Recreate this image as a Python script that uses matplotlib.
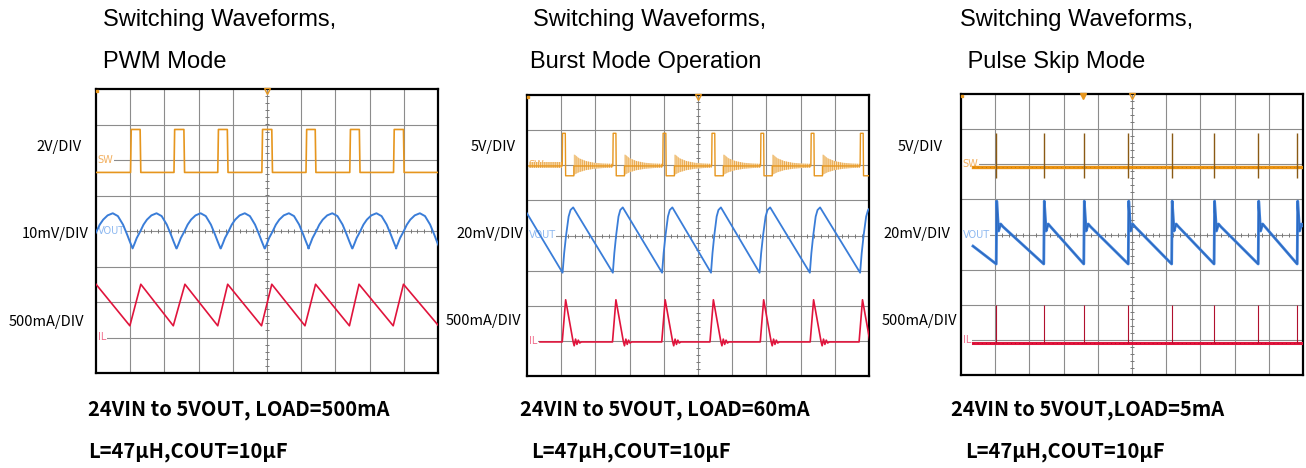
import matplotlib.pyplot as plt
import numpy as np

W, H = 1306, 468

plt.rcParams['hatch.linewidth'] = 0.6

# scope colours
SW_C = '#E6961E'
VOUT_C = '#3A7DD8'
IL_C = '#E0143C'

# ---------------- texts ----------------
TITLES = [['Switching Waveforms,', 'PWM Mode'],
          ['Switching Waveforms,', 'Burst Mode Operation'],
          ['Switching Waveforms,', ' Pulse Skip Mode']]
SCALES = [['2V/DIV', '10mV/DIV', '500mA/DIV'],
          ['5V/DIV', '20mV/DIV', '500mA/DIV'],
          ['5V/DIV', '20mV/DIV', '500mA/DIV']]
CONDITIONS = [['24VIN to 5VOUT, LOAD=500mA', 'L=47\u00b5H,COUT=10\u00b5F'],
              ['24VIN to 5VOUT, LOAD=60mA', 'L=47\u00b5H,COUT=10\u00b5F'],
              ['24VIN to 5VOUT,LOAD=5mA', 'L=47\u00b5H,COUT=10\u00b5F']]
CHANNELS = ['SW', 'VOUT', 'IL']
CHANNEL_REF = [6, 4, 1]          # reference level (div) of each channel

# ---------------- PWM mode (divisions) ----------------
PWM_SW_RISE = [1.01, 2.28, 3.56, 4.85, 6.14, 7.42, 8.70]
PWM_SW_FALL = [1.29, 2.57, 3.84, 5.14, 6.41, 7.70, 8.99]
PWM_SW_LO, PWM_SW_HI = 5.65, 6.86

PWM_VOUT_TROUGH = [-0.21, 1.07, 2.36, 3.65, 4.94, 6.21, 7.50, 8.77]
PWM_VOUT_CYCLE_DX = [0.0, 0.06, 0.12, 0.22, 0.32, 0.42, 0.55, 0.70, 0.85, 1.00, 1.12, 1.20, 1.28]
PWM_VOUT_CYCLE_Y = [3.51, 3.65, 3.80, 3.98, 4.18, 4.32, 4.44, 4.50, 4.42, 4.18, 3.90, 3.70, 3.51]

PWM_IL_X = [0.0, 0.99, 1.31, 2.26, 2.60, 3.56, 3.85, 4.84, 5.14, 6.11, 6.42, 7.41, 7.69, 8.69, 8.99, 10.0]
PWM_IL_Y = [2.50, 1.33, 2.50, 1.33, 2.50, 1.33, 2.50, 1.33, 2.50, 1.33, 2.50, 1.33, 2.50, 1.33, 2.50, 1.35]

# ---------------- Burst mode ----------------
BURST_SW_RISE = [1.03, 2.51, 3.97, 5.40, 6.83, 8.30, 9.74]
BURST_SW_WIDTH = 0.09
BURST_SW_HI, BURST_SW_LO, BURST_SW_MID = 6.91, 5.70, 5.98
BURST_SW_LOW_TIME = 0.25
BURST_RING_DX = [0.0, 0.03, 0.15, 0.35, 0.60, 0.85, 1.20]
BURST_RING_UP = [6.30, 6.30, 6.20, 6.12, 6.07, 6.05, 6.04]
BURST_RING_DN = [5.72, 5.74, 5.80, 5.86, 5.90, 5.92, 5.93]
BURST_PRE_RING = [5.92, 6.08]

BURST_VOUT_TROUGH = [1.04, 2.51, 3.95, 5.38, 6.80, 8.27, 9.74]
BURST_VOUT_PEAK = [1.35, 2.80, 4.25, 5.67, 7.11, 8.57, 10.05]
BURST_VOUT_LO, BURST_VOUT_HI, BURST_VOUT_START = 2.94, 4.80, 4.63
BURST_VOUT_RISE_FX = [0.0, 0.15, 0.33, 0.57, 0.75, 1.0]
BURST_VOUT_RISE_FY = [0.0, 0.30, 0.57, 0.86, 0.96, 1.0]

BURST_IL_PEAK = [1.13, 2.60, 4.04, 5.45, 6.92, 8.38, 9.81]
BURST_IL_START = 0.38
BURST_IL_DX = [-0.10, 0.0, 0.22, 0.25, 0.29, 0.33, 0.37, 0.41, 0.46]
BURST_IL_Y = [0.97, 2.17, 0.97, 0.86, 1.05, 0.90, 1.02, 0.94, 0.97]
BURST_IL_BASE = 0.97

# ---------------- Pulse skip mode ----------------
SKIP_SPIKE_X = [1.03, 2.42, 3.59, 4.89, 6.16, 7.40, 8.69, 9.83]
SKIP_START = 0.35
SKIP_SW_BASE, SKIP_SW_TOP, SKIP_SW_BOT = 5.92, 6.89, 5.61
SKIP_VOUT_START = 3.67
SKIP_VOUT_DX = [0.0, 0.015, 0.07, 0.13, 0.20]
SKIP_VOUT_Y = [3.16, 4.95, 4.10, 4.30, 4.22]
SKIP_IL_BASE, SKIP_IL_TOP = 0.91, 2.0

# layout: left, top, width, height in pixels
AX_BOXES = [(96, 89, 342, 284), (527, 95, 342, 281), (961, 94, 342, 281)]
TITLE_X = [[103, 103], [533, 530], [960, 961]]
SCALE_POS = [[(82, 147), (89, 234), (84, 322)],
             [(516, 147), (523, 234), (521, 321)],
             [(943, 147), (950, 234), (957, 321)]]
COND_X = [[88, 88], [520, 531], [951, 965]]

CJK = ['Noto Sans CJK SC', 'DejaVu Sans']


def ftext(x, y, s, **kw):
    fig.text(x / W, 1 - y / H, s, **kw)


def scope_axes(box):
    left, top, w, h = box
    ax = fig.add_axes([left / W, 1 - (top + h) / H, w / W, h / H])
    ax.set_xlim(0, 10)
    ax.set_ylim(0, 8)
    ax.set_xticks([])
    ax.set_yticks([])
    for gx in range(1, 10):
        ax.axvline(gx, color='#8c8c8c', lw=0.8, zorder=1)
    for gy in range(1, 8):
        ax.axhline(gy, color='#8c8c8c', lw=0.8, zorder=1)
    tx = np.arange(0.2, 10, 0.2)
    ty = np.arange(0.2, 8, 0.2)
    ax.plot(tx, np.full_like(tx, 4), ls='none', marker='|', ms=3.5, mew=0.7, color='#777777', zorder=1)
    ax.plot(np.full_like(ty, 5), ty, ls='none', marker='_', ms=3.5, mew=0.7, color='#777777', zorder=1)
    for sp in ax.spines.values():
        sp.set_linewidth(1.6)
        sp.set_color('black')
    # trigger marker at the top centre
    ax.plot([5], [7.93], marker='v', ms=5, mfc='none', mec=SW_C, mew=1, clip_on=False, zorder=5)
    ax.plot([0.04], [7.95], marker='s', ms=2, color=SW_C, clip_on=False, zorder=5)
    for name, ref, col in zip(CHANNELS, CHANNEL_REF, ['#F2B060', '#8DB8F0', '#F0708E']):
        ax.text(0.05, ref, name, fontsize=7, color=col, va='center', ha='left',
                family='DejaVu Sans', zorder=2,
                bbox=dict(facecolor='white', edgecolor='none', pad=0.4))
    return ax


fig = plt.figure(figsize=(W / 100, H / 100), dpi=100)

axes = [scope_axes(b) for b in AX_BOXES]

# ---- PWM panel ----
ax = axes[0]
sx, sy = [0.0], [PWM_SW_LO]
for r, f in zip(PWM_SW_RISE, PWM_SW_FALL):
    sx += [r, r + 0.02, f, f + 0.02]
    sy += [PWM_SW_LO, PWM_SW_HI, PWM_SW_HI, PWM_SW_LO]
sx.append(10.0)
sy.append(PWM_SW_LO)
ax.plot(sx, sy, color=SW_C, lw=1.2, zorder=3)

vx, vy = [], []
for t in PWM_VOUT_TROUGH:
    vx += [t + d for d in PWM_VOUT_CYCLE_DX]
    vy += PWM_VOUT_CYCLE_Y
ax.plot(vx, vy, color=VOUT_C, lw=1.4, zorder=3)
ax.plot(PWM_IL_X, PWM_IL_Y, color=IL_C, lw=1.2, zorder=3)

# ---- Burst panel ----
ax = axes[1]
nxt = BURST_SW_RISE[1:] + [10.0]
ring_style = dict(facecolor='#F8DDB0', edgecolor='#E8A040', hatch='||||||||', lw=0, zorder=3)
ax.fill_between([0.05, BURST_SW_RISE[0]], [BURST_PRE_RING[0]] * 2, [BURST_PRE_RING[1]] * 2, **ring_style)
sx, sy = [0.05, BURST_SW_RISE[0]], [BURST_SW_MID, BURST_SW_MID]
for r, n in zip(BURST_SW_RISE, nxt):
    f = r + BURST_SW_WIDTH
    rs = min(f + BURST_SW_LOW_TIME, n)
    sx += [r, r + 0.01, f, f + 0.01, rs]
    sy += [BURST_SW_MID, BURST_SW_HI, BURST_SW_HI, BURST_SW_LO, BURST_SW_LO]
    if rs < n:
        ex = np.array([rs + d for d in BURST_RING_DX])
        keep = ex < n
        ex = np.append(ex[keep], n)
        up = np.append(np.array(BURST_RING_UP)[keep], BURST_RING_UP[-1])
        dn = np.append(np.array(BURST_RING_DN)[keep], BURST_RING_DN[-1])
        ax.fill_between(ex, dn, up, **ring_style)
        sx += [rs, n]
        sy += [BURST_SW_MID, BURST_SW_MID]
ax.plot(sx, sy, color=SW_C, lw=1.0, zorder=3)

vx, vy = [0.0], [BURST_VOUT_START]
for tr, pk in zip(BURST_VOUT_TROUGH, BURST_VOUT_PEAK):
    vx += [tr + fx * (pk - tr) for fx in BURST_VOUT_RISE_FX]
    vy += [BURST_VOUT_LO + fy * (BURST_VOUT_HI - BURST_VOUT_LO) for fy in BURST_VOUT_RISE_FY]
ax.plot(vx, vy, color=VOUT_C, lw=1.3, zorder=3)

ix, iy = [BURST_IL_START], [BURST_IL_BASE]
for p in BURST_IL_PEAK:
    ix += [p + d for d in BURST_IL_DX]
    iy += BURST_IL_Y
ix.append(10.5)
iy.append(BURST_IL_BASE)
ax.plot(ix, iy, color=IL_C, lw=1.2, zorder=3)

# ---- Pulse skip panel ----
ax = axes[2]
ax.plot([SKIP_START, 10], [SKIP_SW_BASE] * 2, color='#EB9312', lw=2.4, zorder=3)
ax.plot([SKIP_START, 10], [SKIP_SW_BASE] * 2, color='#6b4200', lw=0.6, ls=(0, (1, 4)), alpha=0.4, zorder=3)
ax.vlines(SKIP_SPIKE_X, SKIP_SW_BOT, SKIP_SW_TOP, color='#8a5a14', lw=1.0, zorder=4)

vx, vy = [SKIP_START], [SKIP_VOUT_START]
for s in SKIP_SPIKE_X:
    vx += [s + d for d in SKIP_VOUT_DX]
    vy += SKIP_VOUT_Y
ax.plot(vx, vy, color=VOUT_C, lw=2.0, zorder=3)
ax.plot(vx, vy, color='#1f4f9a', lw=0.6, alpha=0.5, zorder=3)

ax.plot([SKIP_START, 10], [SKIP_IL_BASE] * 2, color=IL_C, lw=2.2, zorder=3)
ax.plot([SKIP_START, 10], [SKIP_IL_BASE] * 2, color='#5a0010', lw=0.6, ls=(0, (1, 4)), alpha=0.4, zorder=3)
ax.vlines(SKIP_SPIKE_X, SKIP_IL_BASE, SKIP_IL_TOP, color='#B0102E', lw=0.8, zorder=4)
ax.plot([3.57], [7.93], marker='v', ms=5, color=SW_C, clip_on=False, zorder=5)

# ---- texts ----
for i in range(3):
    for (t, yb, x) in zip(TITLES[i], [26, 68], TITLE_X[i]):
        ftext(x, yb, t, family='Liberation Sans', fontsize=17, va='baseline', ha='left')
    for s, (x, y) in zip(SCALES[i], SCALE_POS[i]):
        ftext(x, y, s, family=CJK, fontsize=10.5, va='center', ha='right')
    for s, y, x in zip(CONDITIONS[i], [410, 452], COND_X[i]):
        ftext(x, y, s, family=CJK, fontsize=14.5, fontweight='bold', va='center', ha='left')

fig.savefig('out.png', dpi=100)
